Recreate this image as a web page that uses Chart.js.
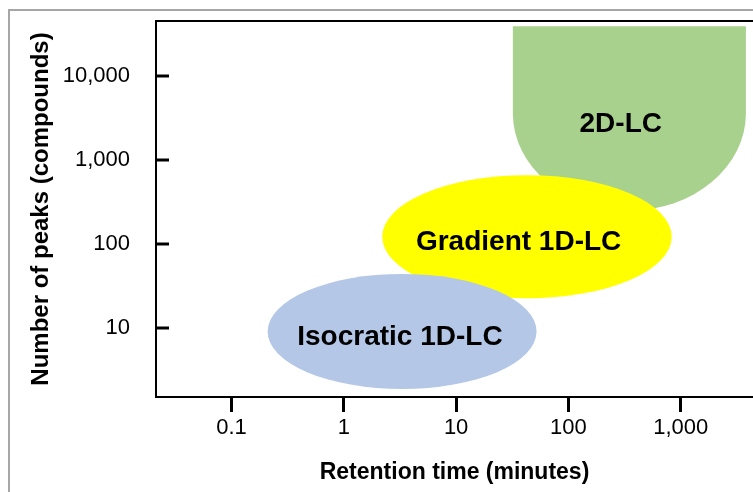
<!DOCTYPE html>
<html><head><meta charset="utf-8">
<script src="https://cdn.jsdelivr.net/npm/chart.js@4.4.1/dist/chart.umd.min.js"></script>
<style>html,body{margin:0;padding:0;background:#fff;}#wrap{width:753px;height:492px;position:relative;}</style>
</head><body><div id="wrap"><canvas id="c"></canvas></div>
<script>
// Regions (retention time in minutes, number of peaks)
const regionNames = ['2D-LC', 'Gradient 1D-LC', 'Isocratic 1D-LC'];
const regionXMin = [32, 2.2, 0.21];
const regionXMax = [3800, 830, 52];
const regionYMin = [250, 22.6, 1.88];
const regionYMax = [39000, 660, 44];
const regionYFlat = [3600, null, null]; // 2D-LC keeps straight sides above this value
const labelX = [292, 36, 3.16];
const labelY = [2800, 112, 8.25];
// Axes
const xTicks = [0.1, 1, 10, 100, 1000];
const yTicks = [10, 100, 1000, 10000];
const xRange = [0.0213, 4394];
const yRange = [1.509, 45160];
const regionColors = ['#A9D18E', '#FFFF00', '#B4C7E7'];
const FONT = "'Liberation Sans', Arial, sans-serif";

const regionPlugin = {
  id: 'regions',
  beforeDraw(chart) {
    const ctx = chart.ctx;
    ctx.save();
    ctx.strokeStyle = '#A6A6A6';
    ctx.lineWidth = 2;
    ctx.beginPath();
    ctx.moveTo(9, chart.height); ctx.lineTo(9, 10); ctx.lineTo(chart.width, 10);
    ctx.stroke();
    ctx.restore();
  },
  afterDatasetsDraw(chart) {
    const {ctx, chartArea, scales: {x, y}} = chart;
    ctx.save();
    for (let i = 0; i < regionNames.length; i++) {
      const l = x.getPixelForValue(regionXMin[i]);
      const r = x.getPixelForValue(regionXMax[i]);
      const t = y.getPixelForValue(regionYMax[i]);
      const b = y.getPixelForValue(regionYMin[i]);
      const cx = (l + r) / 2, rx = (r - l) / 2;
      ctx.fillStyle = regionColors[i];
      ctx.beginPath();
      if (regionYFlat[i] !== null) {
        const f = y.getPixelForValue(regionYFlat[i]);
        ctx.moveTo(l, t); ctx.lineTo(r, t); ctx.lineTo(r, f);
        ctx.ellipse(cx, f, rx, b - f, 0, 0, Math.PI, false);
        ctx.closePath();
      } else {
        ctx.ellipse(cx, (t + b) / 2, rx, (b - t) / 2, 0, 0, Math.PI * 2);
      }
      ctx.fill();
    }
    ctx.fillStyle = '#000';
    ctx.font = 'bold 28px ' + FONT;
    ctx.textAlign = 'center';
    ctx.textBaseline = 'alphabetic';
    for (let i = 0; i < regionNames.length; i++) {
      ctx.fillText(regionNames[i], x.getPixelForValue(labelX[i]), y.getPixelForValue(labelY[i]) + 10);
    }
    // top frame line of plot area
    ctx.strokeStyle = '#000';
    ctx.lineWidth = 2;
    ctx.beginPath();
    ctx.moveTo(chartArea.left - 1, chartArea.top); ctx.lineTo(chartArea.right, chartArea.top);
    ctx.stroke();
    // inward y tick marks
    ctx.lineWidth = 3;
    for (const v of yTicks) {
      const py = y.getPixelForValue(v);
      ctx.beginPath(); ctx.moveTo(chartArea.left, py); ctx.lineTo(chartArea.left + 13, py); ctx.stroke();
    }
    ctx.restore();
  }
};

new Chart(document.getElementById('c'), {
  type: 'scatter',
  data: { datasets: [] },
  options: {
    responsive: true, maintainAspectRatio: false, animation: false, devicePixelRatio: 1,
    layout: { padding: { top: 21, left: 0, right: 0, bottom: 0 } },
    plugins: { legend: { display: false }, tooltip: { enabled: false } },
    scales: {
      x: {
        type: 'logarithmic', position: 'bottom', min: xRange[0], max: xRange[1], bounds: 'data',
        afterBuildTicks: s => { s.ticks = xTicks.map(v => ({ value: v })); },
        afterFit: s => { s.height = 95; s.paddingLeft = 0; s.paddingRight = 0; },
        grid: { display: true, drawOnChartArea: false, drawTicks: true, tickLength: 15, tickWidth: 3, lineWidth: 3, tickColor: '#000', color: '#000' },
        border: { display: true, color: '#000', width: 2 },
        ticks: { padding: 3, color: '#000', autoSkip: false, maxRotation: 0, font: { family: FONT, size: 22 },
          callback: v => Number(v).toLocaleString('en-US') },
        title: { display: true, text: 'Retention time (minutes)', color: '#000',
          font: { family: FONT, size: 23, weight: 'bold' }, padding: { top: 0, bottom: 6 } }
      },
      y: {
        type: 'logarithmic', position: 'left', min: yRange[0], max: yRange[1], bounds: 'data',
        afterBuildTicks: s => { s.ticks = yTicks.map(v => ({ value: v })); },
        afterFit: s => { s.width = 156; s.paddingTop = 0; s.paddingBottom = 0; },
        grid: { display: true, drawOnChartArea: false, drawTicks: false },
        border: { display: true, color: '#000', width: 2 },
        ticks: { padding: 26, color: '#000', autoSkip: false, font: { family: FONT, size: 22 },
          callback: v => Number(v).toLocaleString('en-US') },
        title: { display: true, text: 'Number of peaks (compounds)', color: '#000',
          font: { family: FONT, size: 24, weight: 'bold' }, padding: { top: 27, bottom: 0 } }
      }
    }
  },
  plugins: [regionPlugin]
});
</script>
</body></html>
